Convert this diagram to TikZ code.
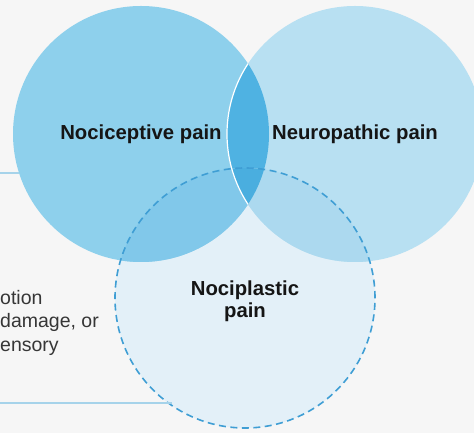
\documentclass[tikz,border=0pt]{standalone}
\usepackage{fontspec}
\setmainfont{Liberation Sans}
\usetikzlibrary{positioning}
\definecolor{painBg}{HTML}{F6F6F6}
\definecolor{nociFill}{HTML}{8ED0EC}
\definecolor{neuroFill}{HTML}{B8E0F2}
\definecolor{lensFill}{HTML}{4FB2E2}
\definecolor{plastFill}{HTML}{E3F0F8}
\definecolor{nociPlast}{HTML}{81C8EA}
\definecolor{neuroPlast}{HTML}{ACD9EF}
\definecolor{tripleFill}{HTML}{4AAEDF}
\definecolor{painDash}{HTML}{3F9ED4}
\definecolor{painLine}{HTML}{A6D3EA}
\definecolor{painText}{HTML}{151515}
\definecolor{painGrey}{HTML}{363636}

\begin{document}
\begin{tikzpicture}[x=1pt, y=1pt,
    paincircle/.style={circle, inner sep=0pt, outer sep=0pt, align=center,
      font=\fontsize{20.3}{22}\selectfont\bfseries, text=painText},
    refline/.style={draw=painLine, line width=1.8pt},
    deftext/.style={anchor=base west, inner sep=0pt, text=painGrey,
      font=\fontsize{19.5}{23.5}\selectfont}]
  \useasboundingbox (0,0) rectangle (474,433);
  \fill[painBg] (0,0) rectangle (474,433);
  \coordinate (cl) at (141,299);
  \coordinate (cr) at (355,299);
  \coordinate (cb) at (245,135);

  % fills
  \fill[plastFill] (cb) circle (130);
  \fill[nociFill] (cl) circle (128);
  \fill[neuroFill] (cr) circle (128);
  \begin{scope}
    \clip (cl) circle (128);
    \fill[lensFill] (cr) circle (128);
  \end{scope}
  \begin{scope}
    \clip (cb) circle (130);
    \fill[nociPlast] (cl) circle (128);
    \fill[neuroPlast] (cr) circle (128);
    \clip (cl) circle (128);
    \fill[tripleFill] (cr) circle (128);
  \end{scope}
  \begin{scope}
    \clip (cl) circle (128);
    \draw[white, line width=1.2pt] (cr) circle (128);
  \end{scope}
  \draw[painDash, line width=1.6pt, dash pattern=on 7pt off 4.5pt] (cb) circle (130);

  % labels
  \node[paincircle, minimum size=256pt] (noci) at (cl) {Nociceptive pain};
  \node[paincircle, minimum size=256pt] (neuro) at (cr) {Neuropathic pain};
  \node[paincircle, minimum size=260pt] (plast) at ([yshift=-3pt]cb) {Nociplastic\\pain};

  % reference lines
  \coordinate (topl) at (0,260);
  \coordinate (botl) at (0,30);
  \draw[refline] (topl) -- (topl -| noci.197.7);
  \draw[refline] (botl) -- (botl -| plast.236);

  \node[deftext] (def1) at (0,128) {otion};
  \node[deftext] (def2) at (0,105) {damage, or};
  \node[deftext] (def3) at (0,81) {ensory};
\end{tikzpicture}
\end{document}
